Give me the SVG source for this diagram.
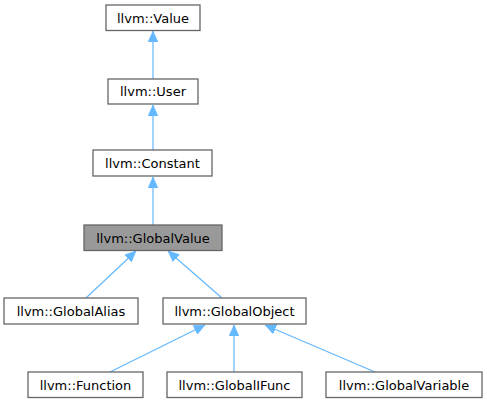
<svg xmlns="http://www.w3.org/2000/svg" width="487" height="403" viewBox="0 0 487 403">
<style>
.box{fill:#ffffff;stroke:#666666;stroke-width:1.3}
.sel{fill:#999999;stroke:#666666;stroke-width:1.3}
.lbl{font-family:"DejaVu Sans",sans-serif;font-size:13px;fill:#000000;text-anchor:middle}
.edge{stroke:#63b8ff;stroke-width:1.2;fill:none;marker-end:url(#arr)}
</style>
<defs>
<marker id="arr" markerUnits="userSpaceOnUse" markerWidth="11" markerHeight="10" refX="11" refY="5" orient="auto" viewBox="0 0 11 10">
<path d="M0,0 L11,5 L0,10 z" fill="#63b8ff" stroke="#63b8ff" stroke-width="0.5"/>
</marker>
</defs>
<rect width="487" height="403" fill="#ffffff"/>
<g id="edges">
<line class="edge" x1="153" y1="79" x2="153" y2="31"/>
<line class="edge" x1="153" y1="150" x2="153" y2="105"/>
<line class="edge" x1="153" y1="225" x2="153" y2="177"/>
<line class="edge" x1="86" y1="298" x2="136" y2="251"/>
<line class="edge" x1="222" y1="298" x2="168" y2="251"/>
<line class="edge" x1="110" y1="372" x2="205" y2="325"/>
<line class="edge" x1="234" y1="372" x2="234" y2="325"/>
<line class="edge" x1="375" y1="372" x2="265" y2="325"/>
</g>
<g id="node-value"><rect class="box" x="106" y="5" width="94" height="25.5"/><text class="lbl" x="153" y="22.5">llvm::Value</text></g>
<g id="node-user"><rect class="box" x="108" y="79" width="90" height="25"/><text class="lbl" x="153" y="96">llvm::User</text></g>
<g id="node-constant"><rect class="box" x="93" y="150" width="119" height="26"/><text class="lbl" x="152.5" y="167.5">llvm::Constant</text></g>
<g id="node-globalvalue"><rect class="sel" x="84" y="225" width="138" height="25.5"/><text class="lbl" x="153" y="242.5">llvm::GlobalValue</text></g>
<g id="node-globalalias"><rect class="box" x="4" y="298" width="134" height="26"/><text class="lbl" x="71" y="315.5">llvm::GlobalAlias</text></g>
<g id="node-globalobject"><rect class="box" x="163" y="298" width="143" height="26"/><text class="lbl" x="234.5" y="315.5">llvm::GlobalObject</text></g>
<g id="node-function"><rect class="box" x="28" y="372" width="115" height="25.5"/><text class="lbl" x="85.5" y="389.5">llvm::Function</text></g>
<g id="node-globalifunc"><rect class="box" x="167" y="372" width="135" height="25.5"/><text class="lbl" x="234.5" y="389.5">llvm::GlobalIFunc</text></g>
<g id="node-globalvariable"><rect class="box" x="326" y="372" width="156" height="25.5"/><text class="lbl" x="404" y="389.5">llvm::GlobalVariable</text></g>
</svg>
